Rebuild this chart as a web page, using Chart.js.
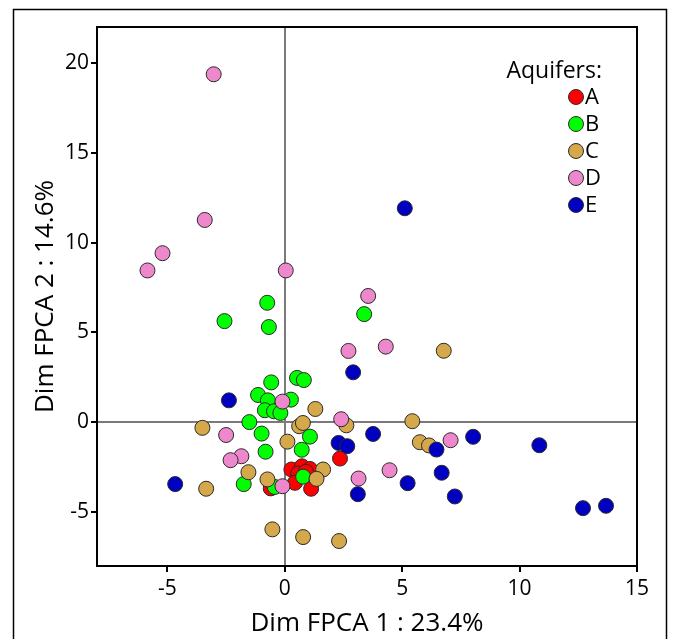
<!DOCTYPE html>
<html>
<head>
<meta charset="utf-8">
<script src="https://cdn.jsdelivr.net/npm/chart.js@4/dist/chart.umd.min.js"></script>
<style>
  html, body { margin: 0; padding: 0; background: #fff; }
  #wrap { position: relative; width: 673px; height: 639px; }
</style>
</head>
<body>
<div id="wrap"><canvas id="chart" width="673" height="639"></canvas></div>
<script>
// aquifer groups and their colours
const aquifers = ['A', 'B', 'C', 'D', 'E'];
const colors = ['#ff0000', '#00ff00', '#d4a84b', '#ee88cc', '#0000c0'];

// [Dim FPCA 1, Dim FPCA 2]
const aquiferA = [[0.28, -2.63], [0.73, -2.45], [1.07, -2.6], [0.57, -2.85], [0.9, -2.75],
  [0.43, -3.37], [1.12, -3.7], [-0.6, -3.68], [2.35, -2.02]];
const aquiferB = [[-0.75, 6.65], [-2.57, 5.63], [-0.68, 5.3], [3.38, 6.02], [-0.58, 2.22],
  [0.52, 2.47], [0.81, 2.35], [-1.14, 1.52], [-0.72, 1.22], [0.26, 1.26], [-0.85, 0.67],
  [-0.46, 0.61], [-0.19, 0.52], [-1.51, 0.01], [-0.99, -0.63], [1.07, -0.8], [-0.82, -1.64],
  [0.72, -1.53], [-1.75, -3.44], [-0.43, -3.6], [0.78, -3.03]];
const aquiferC = [[6.77, 3.98], [1.3, 0.74], [-3.51, -0.31], [0.61, -0.22], [0.77, -0.04],
  [0.11, -1.08], [2.62, -0.17], [5.43, 0.06], [5.75, -1.11], [6.14, -1.29], [-1.55, -2.78],
  [1.63, -2.63], [1.35, -3.15], [-0.74, -3.18], [-3.35, -3.7], [-0.53, -5.96], [0.78, -6.39],
  [2.31, -6.61]];
const aquiferD = [[-3.03, 19.37], [-3.41, 11.26], [-5.21, 9.41], [-5.85, 8.45], [0.04, 8.45],
  [3.55, 7.03], [2.71, 3.97], [4.3, 4.21], [-0.1, 1.15], [2.4, 0.17], [-2.5, -0.71],
  [-1.85, -1.89], [-2.31, -2.11], [-0.1, -3.56], [3.14, -3.13], [4.46, -2.67], [7.06, -1.0]];
const aquiferE = [[5.11, 11.91], [2.91, 2.78], [-2.38, 1.22], [3.76, -0.65], [2.29, -1.15],
  [2.66, -1.33], [6.46, -1.52], [8.02, -0.81], [10.84, -1.28], [-4.67, -3.44], [3.11, -4.0],
  [5.23, -3.39], [6.68, -2.81], [7.24, -4.13], [12.7, -4.78], [13.68, -4.65]];

const xTicks = [-5, 0, 5, 10, 15];
const yTicks = [-5, 0, 5, 10, 15, 20];

const seriesData = [aquiferA, aquiferB, aquiferC, aquiferD, aquiferE];
const FONT = "'Open Sans', 'Liberation Sans', sans-serif";

const datasets = aquifers.map((name, i) => ({
  label: name,
  data: seriesData[i].map(p => ({ x: p[0], y: p[1] })),
  backgroundColor: colors[i],
  borderColor: '#2a2a2a',
  borderWidth: 1,
  pointRadius: 7.5,
  pointHoverRadius: 7.5,
  order: aquifers.length - i   // later groups drawn on top
}));

// box around the plot, outer figure frame and the legend inside the plot
const decorations = {
  id: 'decorations',
  afterDraw(chart) {
    const ctx = chart.ctx;
    const a = chart.chartArea;
    ctx.save();
    ctx.strokeStyle = '#000';
    ctx.lineWidth = 2;
    ctx.strokeRect(a.left, a.top, a.right - a.left, a.bottom - a.top);

    ctx.lineWidth = 1.5;
    ctx.beginPath();
    ctx.moveTo(13.5, 639);
    ctx.lineTo(13.5, 9.5);
    ctx.lineTo(666.5, 9.5);
    ctx.lineTo(666.5, 639);
    ctx.stroke();

    ctx.fillStyle = '#000';
    ctx.font = '23px ' + FONT;
    ctx.textAlign = 'right';
    ctx.textBaseline = 'middle';
    ctx.fillText('Aquifers:', a.right - 35, a.top + 44);

    ctx.textAlign = 'left';
    ctx.font = '22px ' + FONT;
    aquifers.forEach((name, i) => {
      const y = a.top + 70 + i * 27;
      ctx.beginPath();
      ctx.arc(a.right - 61, y, 7.5, 0, Math.PI * 2);
      ctx.fillStyle = colors[i];
      ctx.fill();
      ctx.lineWidth = 1;
      ctx.strokeStyle = '#2a2a2a';
      ctx.stroke();
      ctx.fillStyle = '#000';
      ctx.fillText(name, a.right - 52, y + 1);
    });
    ctx.restore();
  }
};

const zeroLine = c => (c.tick && c.tick.value === 0) ? '#7a7a7a' : 'rgba(0,0,0,0)';

new Chart(document.getElementById('chart'), {
  type: 'scatter',
  data: { datasets: datasets },
  plugins: [decorations],
  options: {
    responsive: false,
    animation: false,
    events: [],
    layout: { padding: { left: 0, top: 27, right: 36, bottom: 0 } },
    plugins: {
      legend: { display: false },
      tooltip: { enabled: false }
    },
    scales: {
      x: {
        type: 'linear',
        min: -8,
        max: 15,
        afterBuildTicks: s => { s.ticks = xTicks.map(v => ({ value: v })); },
        afterFit: s => { s.height = 73; },
        grid: { color: zeroLine, lineWidth: 2, tickColor: '#000', tickLength: 6, tickWidth: 2 },
        border: { display: true, color: '#000', width: 2 },
        ticks: { color: '#000', font: { family: FONT, size: 21 }, padding: 4, maxRotation: 0 },
        title: { display: true, text: 'Dim FPCA 1 : 23.4%', color: '#000',
                 font: { family: FONT, size: 26 }, padding: { top: 0, bottom: 0 } }
      },
      y: {
        type: 'linear',
        min: -8,
        max: 22,
        afterBuildTicks: s => { s.ticks = yTicks.map(v => ({ value: v })); },
        afterFit: s => { s.width = 97; },
        grid: { color: zeroLine, lineWidth: 2, tickColor: '#000', tickLength: 6, tickWidth: 2 },
        border: { display: true, color: '#000', width: 2 },
        ticks: { color: '#000', font: { family: FONT, size: 21 }, padding: 2 },
        title: { display: true, text: 'Dim FPCA 2 : 14.6%', color: '#000',
                 font: { family: FONT, size: 26 }, padding: { top: 30, bottom: 0 } }
      }
    }
  }
});
</script>
</body>
</html>
